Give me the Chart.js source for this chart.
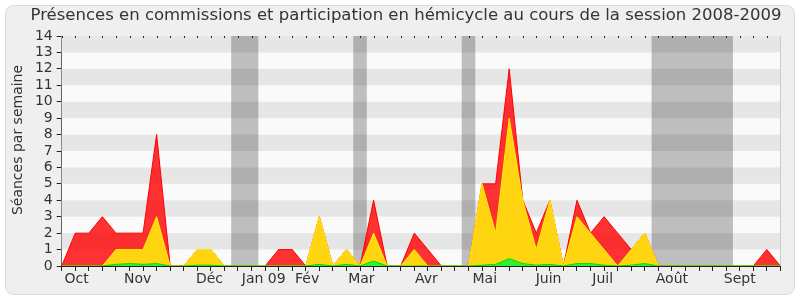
<!DOCTYPE html>
<html>
<head>
<meta charset="utf-8">
<script src="https://cdn.jsdelivr.net/npm/chart.js@4/dist/chart.umd.min.js"></script>
<style>
html, body { margin: 0; padding: 0; background: #ffffff; }
</style>
</head>
<body>
<canvas id="MyChart" width="800" height="300"></canvas>
<script>
// semaines de la session (index 0 = fin septembre 2008)
var semaines = [0,1,2,3,4,5,6,7,8,9,10,11,12,13,14,15,16,17,18,19,20,21,22,23,24,25,26,
    27,28,29,30,31,32,33,34,35,36,37,38,39,40,41,42,43,44,45,46,47,48,49,50,51,52,53];

// total des séances (rouge)
var totalSeances = [0,2,2,3,2,2,2,8,0,0,1,1,0,0,0,0,1,1,0,3,0,1,0,4,0,0,2,
    1,0,0,0,5,5,12,4,2,4,0,4,2,3,2,1,2,0,0,0,0,0,0,0,0,1,0];

// présences en commission (jaune)
var commissions = [0,0,0,0,1,1,1,3,0,0,1,1,0,0,0,0,0,0,0,3,0,1,0,2,0,0,1,
    0,0,0,0,5,2,9,4,1,4,0,3,2,1,0,1,2,0,0,0,0,0,0,0,0,0,0];

// interventions en hémicycle (vert)
var hemicycle = [0,0,0,0,0.1,0.15,0.1,0.15,0,0,0.05,0.05,0,0,0,0,0,0,0,0.1,0,0.1,0,0.3,0,0,0,
    0,0,0,0,0.05,0.1,0.45,0.15,0.05,0.1,0,0.15,0.15,0.05,0,0.05,0.15,0,0,0,0,0,0,0,0,0,0];

var moisLabels = ['Oct', 'Nov', 'Déc', 'Jan 09', 'Fév', 'Mar', 'Avr', 'Mai', 'Juin', 'Juil', 'Août', 'Sept'];
var moisPos = [1.1, 5.6, 10.9, 14.9, 18.1, 22.1, 26.9, 31.2, 35.9, 39.9, 45, 50];

// périodes de vacances parlementaires (en semaines)
var vacances = [[12.5, 14.5], [21.5, 22.5], [29.5, 30.5], [43.5, 49.5]];

var yTicks = [0,1,2,3,4,5,6,7,8,9,10,11,12,13,14];

var titre = 'Présences en commissions et participation en hémicycle au cours de la session 2008-2009';
var titreY = 'Séances par semaine';

function points(valeurs) {
    return semaines.map(function (s, i) { return { x: s, y: valeurs[i] }; });
}

var fond = {
    id: 'fond',
    beforeDraw: function (chart) {
        var ctx = chart.ctx;
        ctx.save();
        ctx.fillStyle = '#ffffff';
        ctx.fillRect(0, 0, chart.width, chart.height);
        ctx.beginPath();
        ctx.roundRect(5.5, 5.5, 789, 289, 8);
        ctx.fillStyle = '#efefef';
        ctx.fill();
        ctx.strokeStyle = '#dadada';
        ctx.lineWidth = 1;
        ctx.stroke();
        ctx.restore();
    },
    beforeDatasetsDraw: function (chart) {
        var ctx = chart.ctx;
        var a = chart.chartArea;
        var x = chart.scales.x;
        var y = chart.scales.y;
        ctx.save();
        ctx.fillStyle = '#fafafa';
        ctx.fillRect(a.left, a.top, a.right - a.left, a.bottom - a.top);
        ctx.fillStyle = '#e6e6e6';
        for (var v = 1; v < 14; v += 2) {
            var y1 = y.getPixelForValue(v + 1);
            var y0 = y.getPixelForValue(v);
            ctx.fillRect(a.left, y1, a.right - a.left, y0 - y1);
        }
        ctx.fillStyle = 'rgba(0,0,0,0.24)';
        vacances.forEach(function (p) {
            var x0 = x.getPixelForValue(p[0]);
            var x1 = x.getPixelForValue(p[1]);
            ctx.fillRect(x0, a.top, x1 - x0, a.bottom - a.top);
        });
        ctx.restore();
    },
    afterDraw: function (chart) {
        var ctx = chart.ctx;
        var a = chart.chartArea;
        var x = chart.scales.x;
        ctx.save();
        // petits repères en haut
        ctx.fillStyle = '#222';
        semaines.forEach(function (s) {
            ctx.fillRect(Math.round(x.getPixelForValue(s)), a.top, 1, 2);
        });
        ctx.strokeStyle = '#cccccc';
        ctx.beginPath();
        ctx.moveTo(Math.round(a.right) + 0.5, a.top);
        ctx.lineTo(Math.round(a.right) + 0.5, a.bottom);
        ctx.stroke();
        // titres
        ctx.fillStyle = '#333';
        ctx.font = '16.5px "DejaVu Sans"';
        ctx.textAlign = 'center';
        ctx.textBaseline = 'middle';
        ctx.fillText(titre, 406, 16);
        ctx.font = '14px "DejaVu Sans"';
        ctx.translate(18, 140);
        ctx.rotate(-Math.PI / 2);
        ctx.fillText(titreY, 0, 0);
        ctx.restore();
    }
};

var ctx = document.getElementById('MyChart').getContext('2d');
var MyChart = new Chart(ctx, {
    type: 'line',
    data: {
        datasets: [{
            label: 'Hémicycle',
            data: points(hemicycle),
            backgroundColor: '#33ee33',
            borderColor: '#00dd00',
            borderWidth: 1,
            fill: 'origin'
        }, {
            label: 'Commissions',
            data: points(commissions),
            backgroundColor: '#ffd512',
            borderColor: '#ffee00',
            borderWidth: 1,
            fill: 'origin'
        }, {
            label: 'Total',
            data: points(totalSeances),
            backgroundColor: 'rgba(255,0,0,0.8)',
            borderColor: '#ff0000',
            borderWidth: 1,
            fill: 'origin'
        }]
    },
    options: {
        responsive: false,
        animation: false,
        elements: { point: { radius: 0 }, line: { tension: 0 } },
        layout: { padding: { left: 8, right: 19.6, top: 36, bottom: 14 } },
        plugins: { legend: { display: false }, tooltip: { enabled: false } },
        scales: {
            x: {
                type: 'linear',
                min: 0,
                max: 53,
                afterBuildTicks: function (scale) {
                    var vals = semaines.slice();
                    moisPos.forEach(function (p) {
                        if (vals.indexOf(p) < 0) vals.push(p);
                    });
                    vals.sort(function (a, b) { return a - b; });
                    scale.ticks = vals.map(function (v) { return { value: v }; });
                },
                afterFit: function (scale) { scale.height = 20; },
                ticks: {
                    autoSkip: false,
                    maxRotation: 0,
                    padding: 0,
                    color: '#333',
                    font: { family: 'DejaVu Sans', size: 14 },
                    callback: function (value) {
                        var k = moisPos.indexOf(value);
                        return k >= 0 ? moisLabels[k] : '';
                    }
                },
                grid: {
                    drawOnChartArea: false,
                    tickLength: 5,
                    tickColor: function (c) {
                        return Number.isInteger(c.tick.value) ? '#222' : 'rgba(0,0,0,0)';
                    }
                },
                border: { color: '#222' }
            },
            y: {
                min: 0,
                max: 14,
                afterBuildTicks: function (scale) {
                    scale.ticks = yTicks.map(function (v) { return { value: v }; });
                },
                afterFit: function (scale) { scale.width = 53.7; },
                ticks: {
                    autoSkip: false,
                    padding: 4,
                    color: '#333',
                    font: { family: 'DejaVu Sans', size: 14 }
                },
                grid: { drawOnChartArea: false, tickLength: 5, tickColor: '#222' },
                border: { color: '#222' }
            }
        }
    },
    plugins: [fond]
});
</script>
</body>
</html>
